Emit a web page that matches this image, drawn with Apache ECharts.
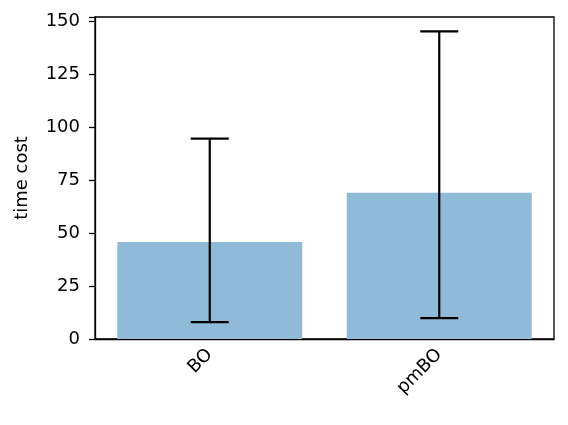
<!DOCTYPE html>
<html>
<head>
<meta charset="utf-8">
<script src="https://cdn.jsdelivr.net/npm/echarts@6/dist/echarts.min.js"></script>
<style>
  html, body { margin: 0; padding: 0; background: #fff; }
  #chart { width: 568px; height: 425px; }
</style>
</head>
<body>
<div id="chart"></div>
<script>
var methods = ['BO', 'pmBO'];
var meanCost = [45.8, 69.0];
var errLow = [8.0, 9.9];
var errHigh = [94.6, 145.2];
var yTicks = [0, 25, 50, 75, 100, 125, 150];

var chart = echarts.init(document.getElementById('chart'));
var fontFam = 'DejaVu Sans';

// 误差线数据
var errData = methods.map(function (m, i) {
    return [i, errLow[i], errHigh[i]];
});

var option = {
    animation: false,
    backgroundColor: '#fff',
    grid: {
        left: 95, right: 14, top: 17, bottom: 86,
        show: true, borderColor: '#000', borderWidth: 1.3
    },
    xAxis: {
        type: 'category',
        data: methods,
        axisLine: { lineStyle: { color: '#000', width: 1.3 } },
        axisTick: { alignWithLabel: true, length: 6, lineStyle: { color: '#000', width: 1.3 } },
        axisLabel: { rotate: 45, color: '#000', fontSize: 18, fontFamily: fontFam, margin: 13 }
    },
    yAxis: {
        type: 'value',
        min: 0, max: 152, interval: 25,
        name: 'time cost',
        nameLocation: 'middle',
        nameGap: 64,
        nameTextStyle: { color: '#000', fontSize: 18, fontFamily: fontFam },
        splitLine: { show: false },
        axisLine: { show: true, lineStyle: { color: '#000', width: 1.3 } },
        axisTick: { show: true, length: 6, lineStyle: { color: '#000', width: 1.3 } },
        axisLabel: {
            color: '#000', fontSize: 18, fontFamily: fontFam, margin: 15,
            formatter: function (v) { return yTicks.indexOf(v) >= 0 ? String(v) : ''; }
        }
    },
    series: [
        {
            type: 'bar',
            data: meanCost,
            barWidth: 185,
            itemStyle: { color: '#8fbbd9' }
        },
        {
            type: 'custom',
            data: errData,
            z: 10,
            renderItem: function (params, api) {
                var x = api.value(0);
                var lo = api.coord([x, api.value(1)]);
                var hi = api.coord([x, api.value(2)]);
                var cap = 19;
                var st = { stroke: '#000', lineWidth: 2.2 };
                return {
                    type: 'group',
                    children: [
                        { type: 'line', shape: { x1: lo[0], y1: lo[1], x2: hi[0], y2: hi[1] }, style: st },
                        { type: 'line', shape: { x1: lo[0] - cap, y1: lo[1], x2: lo[0] + cap, y2: lo[1] }, style: st },
                        { type: 'line', shape: { x1: hi[0] - cap, y1: hi[1], x2: hi[0] + cap, y2: hi[1] }, style: st }
                    ]
                };
            }
        }
    ]
};
chart.setOption(option);
</script>
</body>
</html>
